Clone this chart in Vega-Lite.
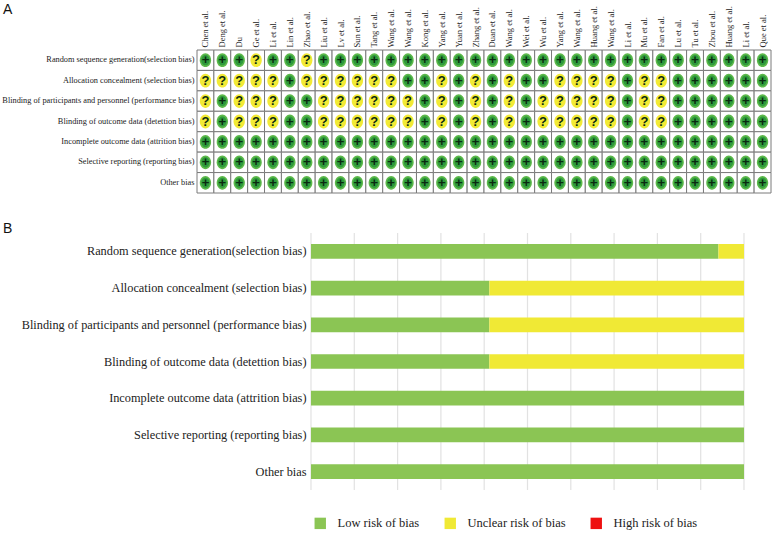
{"$schema":"https://vega.github.io/schema/vega-lite/v6.json","background":"white","padding":{"left":1,"top":2,"right":4,"bottom":4},"bounds":"flush","spacing":40,"datasets":{"matrix":[
{"study":1,"domain":1,"risk":"+"},{"study":2,"domain":1,"risk":"+"},{"study":3,"domain":1,"risk":"+"},{"study":4,"domain":1,"risk":"?"},{"study":5,"domain":1,"risk":"+"},{"study":6,"domain":1,"risk":"+"},{"study":7,"domain":1,"risk":"?"},{"study":8,"domain":1,"risk":"+"},{"study":9,"domain":1,"risk":"+"},{"study":10,"domain":1,"risk":"+"},{"study":11,"domain":1,"risk":"+"},{"study":12,"domain":1,"risk":"+"},{"study":13,"domain":1,"risk":"+"},{"study":14,"domain":1,"risk":"+"},{"study":15,"domain":1,"risk":"+"},{"study":16,"domain":1,"risk":"+"},{"study":17,"domain":1,"risk":"+"},{"study":18,"domain":1,"risk":"+"},{"study":19,"domain":1,"risk":"+"},{"study":20,"domain":1,"risk":"+"},{"study":21,"domain":1,"risk":"+"},{"study":22,"domain":1,"risk":"+"},{"study":23,"domain":1,"risk":"+"},{"study":24,"domain":1,"risk":"+"},{"study":25,"domain":1,"risk":"+"},{"study":26,"domain":1,"risk":"+"},{"study":27,"domain":1,"risk":"+"},{"study":28,"domain":1,"risk":"+"},{"study":29,"domain":1,"risk":"+"},{"study":30,"domain":1,"risk":"+"},{"study":31,"domain":1,"risk":"+"},{"study":32,"domain":1,"risk":"+"},{"study":33,"domain":1,"risk":"+"},{"study":34,"domain":1,"risk":"+"},
{"study":1,"domain":2,"risk":"?"},{"study":2,"domain":2,"risk":"?"},{"study":3,"domain":2,"risk":"?"},{"study":4,"domain":2,"risk":"?"},{"study":5,"domain":2,"risk":"?"},{"study":6,"domain":2,"risk":"+"},{"study":7,"domain":2,"risk":"?"},{"study":8,"domain":2,"risk":"?"},{"study":9,"domain":2,"risk":"?"},{"study":10,"domain":2,"risk":"?"},{"study":11,"domain":2,"risk":"?"},{"study":12,"domain":2,"risk":"?"},{"study":13,"domain":2,"risk":"+"},{"study":14,"domain":2,"risk":"+"},{"study":15,"domain":2,"risk":"?"},{"study":16,"domain":2,"risk":"+"},{"study":17,"domain":2,"risk":"?"},{"study":18,"domain":2,"risk":"+"},{"study":19,"domain":2,"risk":"?"},{"study":20,"domain":2,"risk":"+"},{"study":21,"domain":2,"risk":"+"},{"study":22,"domain":2,"risk":"?"},{"study":23,"domain":2,"risk":"?"},{"study":24,"domain":2,"risk":"?"},{"study":25,"domain":2,"risk":"?"},{"study":26,"domain":2,"risk":"+"},{"study":27,"domain":2,"risk":"?"},{"study":28,"domain":2,"risk":"?"},{"study":29,"domain":2,"risk":"+"},{"study":30,"domain":2,"risk":"+"},{"study":31,"domain":2,"risk":"+"},{"study":32,"domain":2,"risk":"+"},{"study":33,"domain":2,"risk":"+"},{"study":34,"domain":2,"risk":"+"},
{"study":1,"domain":3,"risk":"?"},{"study":2,"domain":3,"risk":"+"},{"study":3,"domain":3,"risk":"?"},{"study":4,"domain":3,"risk":"?"},{"study":5,"domain":3,"risk":"?"},{"study":6,"domain":3,"risk":"+"},{"study":7,"domain":3,"risk":"+"},{"study":8,"domain":3,"risk":"?"},{"study":9,"domain":3,"risk":"?"},{"study":10,"domain":3,"risk":"?"},{"study":11,"domain":3,"risk":"?"},{"study":12,"domain":3,"risk":"?"},{"study":13,"domain":3,"risk":"?"},{"study":14,"domain":3,"risk":"+"},{"study":15,"domain":3,"risk":"?"},{"study":16,"domain":3,"risk":"+"},{"study":17,"domain":3,"risk":"?"},{"study":18,"domain":3,"risk":"+"},{"study":19,"domain":3,"risk":"?"},{"study":20,"domain":3,"risk":"+"},{"study":21,"domain":3,"risk":"?"},{"study":22,"domain":3,"risk":"?"},{"study":23,"domain":3,"risk":"?"},{"study":24,"domain":3,"risk":"?"},{"study":25,"domain":3,"risk":"?"},{"study":26,"domain":3,"risk":"+"},{"study":27,"domain":3,"risk":"?"},{"study":28,"domain":3,"risk":"?"},{"study":29,"domain":3,"risk":"+"},{"study":30,"domain":3,"risk":"+"},{"study":31,"domain":3,"risk":"+"},{"study":32,"domain":3,"risk":"+"},{"study":33,"domain":3,"risk":"+"},{"study":34,"domain":3,"risk":"+"},
{"study":1,"domain":4,"risk":"?"},{"study":2,"domain":4,"risk":"+"},{"study":3,"domain":4,"risk":"?"},{"study":4,"domain":4,"risk":"?"},{"study":5,"domain":4,"risk":"?"},{"study":6,"domain":4,"risk":"+"},{"study":7,"domain":4,"risk":"+"},{"study":8,"domain":4,"risk":"?"},{"study":9,"domain":4,"risk":"?"},{"study":10,"domain":4,"risk":"?"},{"study":11,"domain":4,"risk":"?"},{"study":12,"domain":4,"risk":"?"},{"study":13,"domain":4,"risk":"?"},{"study":14,"domain":4,"risk":"+"},{"study":15,"domain":4,"risk":"?"},{"study":16,"domain":4,"risk":"+"},{"study":17,"domain":4,"risk":"?"},{"study":18,"domain":4,"risk":"+"},{"study":19,"domain":4,"risk":"?"},{"study":20,"domain":4,"risk":"+"},{"study":21,"domain":4,"risk":"?"},{"study":22,"domain":4,"risk":"?"},{"study":23,"domain":4,"risk":"?"},{"study":24,"domain":4,"risk":"?"},{"study":25,"domain":4,"risk":"?"},{"study":26,"domain":4,"risk":"+"},{"study":27,"domain":4,"risk":"?"},{"study":28,"domain":4,"risk":"?"},{"study":29,"domain":4,"risk":"+"},{"study":30,"domain":4,"risk":"+"},{"study":31,"domain":4,"risk":"+"},{"study":32,"domain":4,"risk":"+"},{"study":33,"domain":4,"risk":"+"},{"study":34,"domain":4,"risk":"+"},
{"study":1,"domain":5,"risk":"+"},{"study":2,"domain":5,"risk":"+"},{"study":3,"domain":5,"risk":"+"},{"study":4,"domain":5,"risk":"+"},{"study":5,"domain":5,"risk":"+"},{"study":6,"domain":5,"risk":"+"},{"study":7,"domain":5,"risk":"+"},{"study":8,"domain":5,"risk":"+"},{"study":9,"domain":5,"risk":"+"},{"study":10,"domain":5,"risk":"+"},{"study":11,"domain":5,"risk":"+"},{"study":12,"domain":5,"risk":"+"},{"study":13,"domain":5,"risk":"+"},{"study":14,"domain":5,"risk":"+"},{"study":15,"domain":5,"risk":"+"},{"study":16,"domain":5,"risk":"+"},{"study":17,"domain":5,"risk":"+"},{"study":18,"domain":5,"risk":"+"},{"study":19,"domain":5,"risk":"+"},{"study":20,"domain":5,"risk":"+"},{"study":21,"domain":5,"risk":"+"},{"study":22,"domain":5,"risk":"+"},{"study":23,"domain":5,"risk":"+"},{"study":24,"domain":5,"risk":"+"},{"study":25,"domain":5,"risk":"+"},{"study":26,"domain":5,"risk":"+"},{"study":27,"domain":5,"risk":"+"},{"study":28,"domain":5,"risk":"+"},{"study":29,"domain":5,"risk":"+"},{"study":30,"domain":5,"risk":"+"},{"study":31,"domain":5,"risk":"+"},{"study":32,"domain":5,"risk":"+"},{"study":33,"domain":5,"risk":"+"},{"study":34,"domain":5,"risk":"+"},
{"study":1,"domain":6,"risk":"+"},{"study":2,"domain":6,"risk":"+"},{"study":3,"domain":6,"risk":"+"},{"study":4,"domain":6,"risk":"+"},{"study":5,"domain":6,"risk":"+"},{"study":6,"domain":6,"risk":"+"},{"study":7,"domain":6,"risk":"+"},{"study":8,"domain":6,"risk":"+"},{"study":9,"domain":6,"risk":"+"},{"study":10,"domain":6,"risk":"+"},{"study":11,"domain":6,"risk":"+"},{"study":12,"domain":6,"risk":"+"},{"study":13,"domain":6,"risk":"+"},{"study":14,"domain":6,"risk":"+"},{"study":15,"domain":6,"risk":"+"},{"study":16,"domain":6,"risk":"+"},{"study":17,"domain":6,"risk":"+"},{"study":18,"domain":6,"risk":"+"},{"study":19,"domain":6,"risk":"+"},{"study":20,"domain":6,"risk":"+"},{"study":21,"domain":6,"risk":"+"},{"study":22,"domain":6,"risk":"+"},{"study":23,"domain":6,"risk":"+"},{"study":24,"domain":6,"risk":"+"},{"study":25,"domain":6,"risk":"+"},{"study":26,"domain":6,"risk":"+"},{"study":27,"domain":6,"risk":"+"},{"study":28,"domain":6,"risk":"+"},{"study":29,"domain":6,"risk":"+"},{"study":30,"domain":6,"risk":"+"},{"study":31,"domain":6,"risk":"+"},{"study":32,"domain":6,"risk":"+"},{"study":33,"domain":6,"risk":"+"},{"study":34,"domain":6,"risk":"+"},
{"study":1,"domain":7,"risk":"+"},{"study":2,"domain":7,"risk":"+"},{"study":3,"domain":7,"risk":"+"},{"study":4,"domain":7,"risk":"+"},{"study":5,"domain":7,"risk":"+"},{"study":6,"domain":7,"risk":"+"},{"study":7,"domain":7,"risk":"+"},{"study":8,"domain":7,"risk":"+"},{"study":9,"domain":7,"risk":"+"},{"study":10,"domain":7,"risk":"+"},{"study":11,"domain":7,"risk":"+"},{"study":12,"domain":7,"risk":"+"},{"study":13,"domain":7,"risk":"+"},{"study":14,"domain":7,"risk":"+"},{"study":15,"domain":7,"risk":"+"},{"study":16,"domain":7,"risk":"+"},{"study":17,"domain":7,"risk":"+"},{"study":18,"domain":7,"risk":"+"},{"study":19,"domain":7,"risk":"+"},{"study":20,"domain":7,"risk":"+"},{"study":21,"domain":7,"risk":"+"},{"study":22,"domain":7,"risk":"+"},{"study":23,"domain":7,"risk":"+"},{"study":24,"domain":7,"risk":"+"},{"study":25,"domain":7,"risk":"+"},{"study":26,"domain":7,"risk":"+"},{"study":27,"domain":7,"risk":"+"},{"study":28,"domain":7,"risk":"+"},{"study":29,"domain":7,"risk":"+"},{"study":30,"domain":7,"risk":"+"},{"study":31,"domain":7,"risk":"+"},{"study":32,"domain":7,"risk":"+"},{"study":33,"domain":7,"risk":"+"},{"study":34,"domain":7,"risk":"+"}
],"summary":[
{"item":"Random sequence generation(selection bias)","judgement":"Low risk of bias","percent":94.1},{"item":"Random sequence generation(selection bias)","judgement":"Unclear risk of bias","percent":5.9},{"item":"Random sequence generation(selection bias)","judgement":"High risk of bias","percent":0},
{"item":"Allocation concealment (selection bias)","judgement":"Low risk of bias","percent":41.2},{"item":"Allocation concealment (selection bias)","judgement":"Unclear risk of bias","percent":58.8},{"item":"Allocation concealment (selection bias)","judgement":"High risk of bias","percent":0},
{"item":"Blinding of participants and personnel (performance bias)","judgement":"Low risk of bias","percent":41.2},{"item":"Blinding of participants and personnel (performance bias)","judgement":"Unclear risk of bias","percent":58.8},{"item":"Blinding of participants and personnel (performance bias)","judgement":"High risk of bias","percent":0},
{"item":"Blinding of outcome data (detettion bias)","judgement":"Low risk of bias","percent":41.2},{"item":"Blinding of outcome data (detettion bias)","judgement":"Unclear risk of bias","percent":58.8},{"item":"Blinding of outcome data (detettion bias)","judgement":"High risk of bias","percent":0},
{"item":"Incomplete outcome data (attrition bias)","judgement":"Low risk of bias","percent":100},{"item":"Incomplete outcome data (attrition bias)","judgement":"Unclear risk of bias","percent":0},{"item":"Incomplete outcome data (attrition bias)","judgement":"High risk of bias","percent":0},
{"item":"Selective reporting (reporting bias)","judgement":"Low risk of bias","percent":100},{"item":"Selective reporting (reporting bias)","judgement":"Unclear risk of bias","percent":0},{"item":"Selective reporting (reporting bias)","judgement":"High risk of bias","percent":0},
{"item":"Other bias","judgement":"Low risk of bias","percent":100},{"item":"Other bias","judgement":"Unclear risk of bias","percent":0},{"item":"Other bias","judgement":"High risk of bias","percent":0}
],"gridlines":[{"percent":0},{"percent":10},{"percent":20},{"percent":30},{"percent":40},{"percent":50},{"percent":60},{"percent":70},{"percent":80},{"percent":90},{"percent":100}]},
"config":{"view":{"stroke":null},"font":"Liberation Serif"},
"resolve":{"scale":{"color":"independent"}},
"vconcat":[
{"width":574,"height":143,"data":{"name":"matrix"},
"title":{"text":"A","anchor":"start","frame":"group","dx":-194,"offset":-11,"font":"Liberation Sans","fontSize":14,"fontWeight":"normal","color":"#111111"},
"encoding":{
"x":{"field":"study","type":"ordinal","scale":{"paddingInner":0,"paddingOuter":0},"sort":null,"axis":{"orient":"top","title":null,"domain":false,"ticks":false,"labelAngle":-90,"labelAlign":"left","labelBaseline":"middle","labelPadding":3,"labelFont":"Liberation Serif","labelFontSize":8.5,"labelColor":"#222222","labelOverlap":false,"labelExpr":"['Chen et al.','Deng et al.','Du','Ge et al.','Li et al.','Lin et al.','Zhao et al.','Liu et al.','Lv et al.','Sun et al.','Tang et al.','Wang et al.','Wang et al.','Kong et al.','Yang et al.','Yuan et al.','Zhang et al.','Duan et al.','Wang et al.','Wei et al.','Wu et al.','Yang et al.','Wang et al.','Huang et al.','Wang et al.','Li et al.','Mu et al.','Fan et al.','Lu et al.','Tu et al.','Zhou et al.','Huang et al.','Li et al.','Que et al.'][datum.value-1]"}},
"y":{"field":"domain","type":"ordinal","scale":{"paddingInner":0,"paddingOuter":0},"sort":null,"axis":{"title":null,"domain":false,"ticks":false,"labelPadding":3,"labelLimit":300,"labelFont":"Liberation Serif","labelFontSize":8.3,"labelColor":"#222222","labelExpr":"['Random sequence generation(selection bias)','Allocation concealment (selection bias)','Blinding of participants and personnel (performance bias)','Blinding of outcome data (detettion bias)','Incomplete outcome data (attrition bias)','Selective reporting (reporting bias)','Other bias\u00a0\u00a0'][datum.value-1]"}}},
"layer":[
{"mark":{"type":"rect","fill":"white","stroke":"#7a7a7a","strokeWidth":1}},
{"mark":{"type":"point","filled":true,"opacity":1,"size":190,"shape":"M-0.82,0A0.82,1 0 1 0 0.82,0A0.82,1 0 1 0 -0.82,0Z"},"encoding":{"color":{"field":"risk","type":"nominal","legend":null,"scale":{"domain":["+","?"],"range":["#5cb84a","#f2ea35"]}}}},
{"transform":[{"filter":"datum.risk == '+'"}],"mark":{"type":"point","filled":true,"opacity":1,"size":105,"color":"#2e9a3c","shape":"M-0.82,0A0.82,1 0 1 0 0.82,0A0.82,1 0 1 0 -0.82,0Z"}},
{"mark":{"type":"text","font":"Liberation Sans","fontWeight":"bold","fontSize":13,"baseline":"middle","color":"#0a2a10"},"encoding":{"text":{"field":"risk","type":"nominal"}}}
]},
{"width":574,"height":257,
"title":{"text":"B","anchor":"start","frame":"group","dx":-194,"offset":-4,"font":"Liberation Sans","fontSize":14,"fontWeight":"normal","color":"#111111"},
"layer":[
{"data":{"name":"gridlines"},"mark":{"type":"rule","color":"#e2e2e2","strokeWidth":1.2},"encoding":{"x":{"field":"percent","type":"quantitative","scale":{"domain":[0,100],"range":[114,547]},"axis":null}}},
{"data":{"name":"summary"},"mark":{"type":"bar"},
"encoding":{
"x":{"field":"percent","type":"quantitative","stack":"zero","scale":{"domain":[0,100],"range":[114,547]},"axis":null},
"y":{"field":"item","type":"nominal","sort":["Random sequence generation(selection bias)","Allocation concealment (selection bias)","Blinding of participants and personnel (performance bias)","Blinding of outcome data (detettion bias)","Incomplete outcome data (attrition bias)","Selective reporting (reporting bias)","Other bias"],"scale":{"paddingInner":0.6,"paddingOuter":0.3},"axis":{"title":null,"domain":false,"ticks":false,"offset":-109,"labelPadding":0,"labelLimit":400,"labelFont":"Liberation Serif","labelFontSize":12.3,"labelColor":"#222222","labelExpr":"datum.label == 'Other bias' ? 'Other bias\u00a0\u00a0' : datum.label"}},
"color":{"field":"judgement","type":"nominal","sort":["Low risk of bias","Unclear risk of bias","High risk of bias"],"scale":{"domain":["Low risk of bias","Unclear risk of bias","High risk of bias"],"range":["#8bc554","#f0e935","#ee1111"]},"legend":{"title":null,"orient":"none","legendX":117,"legendY":284,"direction":"horizontal","columns":3,"columnPadding":24,"symbolType":"square","symbolSize":130,"symbolStrokeWidth":0,"labelFont":"Liberation Serif","labelFontSize":12.5,"labelColor":"#222222","labelOffset":11,"labelLimit":200}}}}
]}
]}
